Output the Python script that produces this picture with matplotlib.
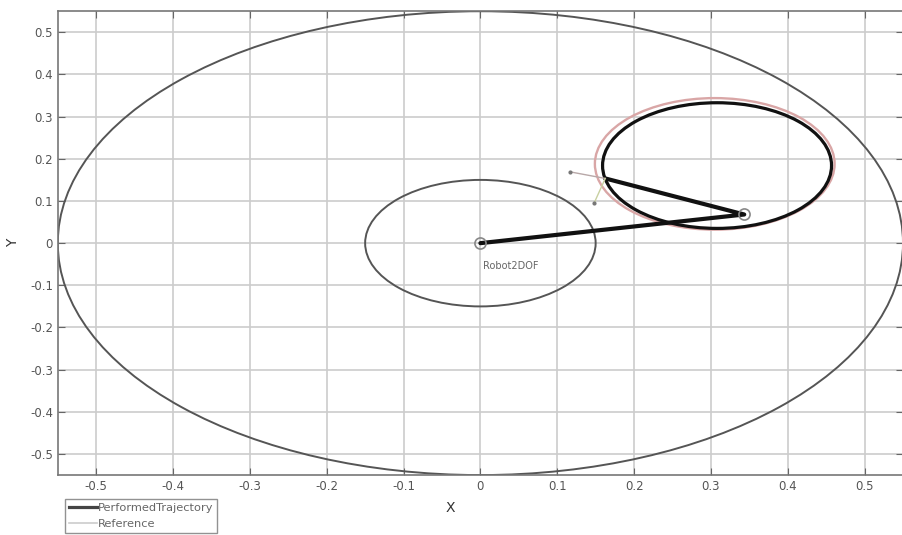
import numpy as np
import matplotlib
matplotlib.use("Agg")
import matplotlib.pyplot as plt
from matplotlib.patches import Circle
from matplotlib.lines import Line2D

# robot 2DOF: link lengths and current joint angles (deg)
link_lengths = [0.35, 0.20]
joint_angles = [11.2, 143.5]

# workspace limits (outer = L1+L2, inner = |L1-L2|)
workspace_radii = [0.55, 0.15]

# circular trajectory: center and radius
ref_center = (0.305, 0.188)
ref_radius = 0.156
perf_center = (0.308, 0.184)
perf_radius = 0.149

# little frame at the end effector (end points)
frame_x = [0.117, 0.148]
frame_y = [0.169, 0.095]

ticks = [-0.5, -0.4, -0.3, -0.2, -0.1, 0, 0.1, 0.2, 0.3, 0.4, 0.5]
tick_labels = ["-0.5", "-0.4", "-0.3", "-0.2", "-0.1", "0", "0.1", "0.2", "0.3", "0.4", "0.5"]

fig = plt.figure(figsize=(9.03, 5.35), dpi=100)
ax = fig.add_axes([0.064, 0.112, 0.936, 0.867])

ax.set_xlim(-0.55, 0.55)
ax.set_ylim(-0.55, 0.55)

for r in workspace_radii:
    ax.add_patch(Circle((0, 0), r, fill=False, ec="#555555", lw=1.4))

ax.add_patch(Circle(ref_center, ref_radius, fill=False, ec="#d9a6a6", lw=1.7))
ax.add_patch(Circle(perf_center, perf_radius, fill=False, ec="#111111", lw=2.3))

# forward kinematics
q1 = np.radians(joint_angles[0])
q2 = np.radians(joint_angles[0] + joint_angles[1])
elbow = (link_lengths[0] * np.cos(q1), link_lengths[0] * np.sin(q1))
tip = (elbow[0] + link_lengths[1] * np.cos(q2), elbow[1] + link_lengths[1] * np.sin(q2))

ax.plot([0, elbow[0], tip[0]], [0, elbow[1], tip[1]], color="#111111", lw=3, solid_capstyle="round")
ax.plot([0, elbow[0]], [0, elbow[1]], "o", mfc="none", mec="#888888", ms=8, mew=1.2)

ax.plot([tip[0], frame_x[0]], [tip[1], frame_y[0]], color="#b8a8a8", lw=1)
ax.plot([tip[0], frame_x[1]], [tip[1], frame_y[1]], color="#c8d0a0", lw=1)
ax.plot(frame_x, frame_y, ".", color="#777777", ms=4)

ax.text(0.004, -0.055, "Robot2DOF", fontsize=7, color="#666666", va="center")

ax.set_xticks(ticks)
ax.set_xticklabels(tick_labels)
ax.set_yticks(ticks)
ax.set_yticklabels(tick_labels)
ax.tick_params(direction="in", length=5, labelsize=8.5, labelcolor="#555555", color="#666666",
               top=True, right=True)
ax.grid(True, color="#cccccc", lw=1.2)
ax.set_axisbelow(True)
for s in ax.spines.values():
    s.set_color("#777777")
    s.set_linewidth(1.2)

ax.set_xlabel("X", fontsize=10, color="#333333")
ax.xaxis.set_label_coords(0.465, -0.055)
ax.set_ylabel("Y", fontsize=10, color="#333333")
ax.yaxis.set_label_coords(-0.045, 0.5)

handles = [Line2D([], [], color="#444444", lw=2.3), Line2D([], [], color="#cccccc", lw=1.2)]
fig.legend(handles, ["PerformedTrajectory", "Reference"], loc="upper left",
           bbox_to_anchor=(0.066, 0.077), fontsize=8.2, frameon=True, fancybox=False,
           edgecolor="#777777", handlelength=2.4, handletextpad=0.1, borderpad=0.35,
           labelspacing=0.45, labelcolor="#666666")

fig.savefig("out.png", dpi=100)
